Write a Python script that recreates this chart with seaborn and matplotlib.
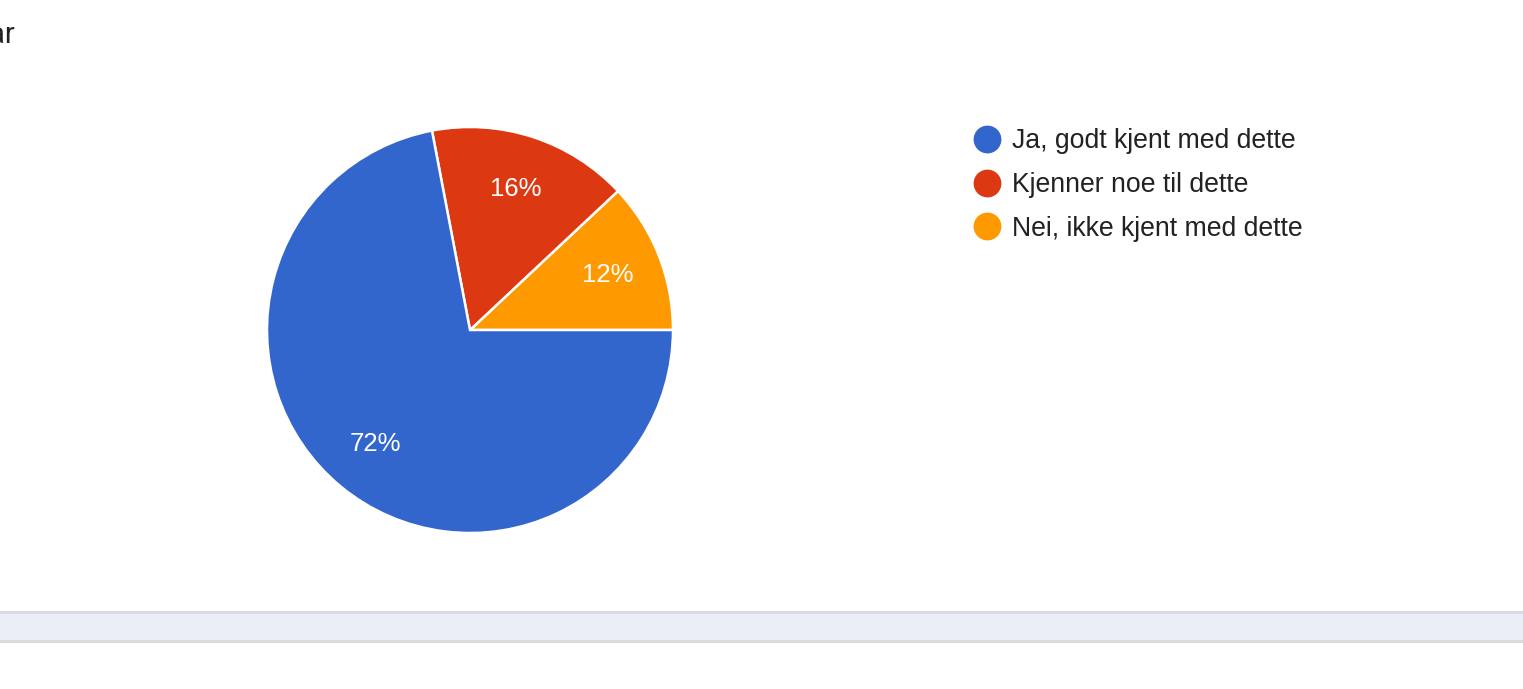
import matplotlib
matplotlib.use("Agg")
import matplotlib.pyplot as plt
from matplotlib.lines import Line2D
from matplotlib.patches import Rectangle
import seaborn as sns

# Survey answers and their shares (percent)
categories = ["Ja, godt kjent med dette", "Kjenner noe til dette", "Nei, ikke kjent med dette"]
shares = [72, 16, 12]
colors = ["#3366CC", "#DC3912", "#FF9900"]
response_label = "25 svar"

sns.set_theme(style="white")
plt.rcParams["font.family"] = ["Liberation Sans", "DejaVu Sans"]

W, H = 1523, 689
fig = plt.figure(figsize=(W / 100, H / 100), dpi=100)
fig.patch.set_facecolor("white")

# Pie axes: centre (470, 330) px, radius 203 px
cx, cy, r = 470, 330, 203
ax = fig.add_axes([(cx - r) / W, (H - cy - r) / H, 2 * r / W, 2 * r / H])
palette = sns.color_palette(colors)

# Draw slices counter-clockwise from 3 o'clock, smallest first
order = [2, 1, 0]
vals = [shares[i] for i in order]
cols = [palette[i] for i in order]
wedges, texts, autotexts = ax.pie(
    vals, colors=cols, startangle=0, counterclock=True, radius=1.0,
    autopct=lambda p: f"{p:.0f}%", pctdistance=0.73,
    wedgeprops=dict(edgecolor="white", linewidth=1.8),
    textprops=dict(color="white", fontsize=18.5),
)
ax.set_xlim(-1.0, 1.0)
ax.set_ylim(-1.0, 1.0)
ax.set_aspect("equal")
ax.axis("off")

# Legend with round markers
handles = [Line2D([0], [0], marker="o", linestyle="none", markersize=19,
                  markerfacecolor=palette[i], markeredgecolor=palette[i])
           for i in range(len(categories))]
leg = fig.legend(handles, categories, loc="upper left",
                 bbox_to_anchor=(975 / W, 1 - 128 / H),
                 frameon=False, fontsize=19.2, handlelength=0.9,
                 handletextpad=0.49, labelspacing=0.67, borderaxespad=0,
                 borderpad=0)
for t in leg.get_texts():
    t.set_color("#222222")

# Response count (partly cut by the left edge)
fig.text(15 / W, 1 - 35 / H, response_label, ha="right", va="center",
         fontsize=21, color="#202124", family=["Roboto", "DejaVu Sans"])

# Footer band
fig.patches.append(Rectangle((0, 1 - 643 / H), 1, 32 / H, transform=fig.transFigure,
                             facecolor="#EBEDF7", edgecolor="none"))
fig.patches.append(Rectangle((0, 1 - 614 / H), 1, 3 / H, transform=fig.transFigure,
                             facecolor="#DADCE0", edgecolor="none"))
fig.patches.append(Rectangle((0, 1 - 643 / H), 1, 3 / H, transform=fig.transFigure,
                             facecolor="#DADCE0", edgecolor="none"))

fig.savefig("out.png", dpi=100)
